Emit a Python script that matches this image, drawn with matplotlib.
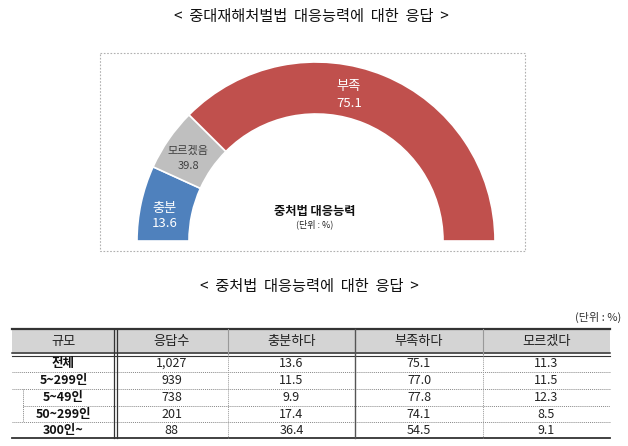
import matplotlib
matplotlib.use("Agg")
import matplotlib.pyplot as plt
from matplotlib.patches import Rectangle

plt.rcParams['font.family'] = ['Noto Sans CJK KR', 'DejaVu Sans']

# 도넛 데이터
donut_names = ['충분', '모르겠음', '부족']
donut_values = [13.6, 11.3, 75.1]
donut_texts = ['13.6', '39.8', '75.1']  # 그림에 표시된 값
donut_colors = ['#4f81bd', '#bfbfbf', '#c0504d']

# 표 데이터
col_names = ['규모', '응답수', '충분하다', '부족하다', '모르겠다']
sizes = ['전체', '5~299인', '5~49인', '50~299인', '300인~']
n_resp = ['1,027', '939', '738', '201', '88']
enough = [13.6, 11.5, 9.9, 17.4, 36.4]
lacking = [75.1, 77.0, 77.8, 74.1, 54.5]
unknown = [11.3, 11.5, 12.3, 8.5, 9.1]

W, H = 628, 446
fig = plt.figure(figsize=(W / 100, H / 100), dpi=100)
fig.patch.set_facecolor('white')

# 픽셀 좌표 오버레이
ax = fig.add_axes([0, 0, 1, 1])
ax.set_xlim(0, W)
ax.set_ylim(H, 0)
ax.axis('off')

ax.text(311, 17, '<  중대재해처벌법  대응능력에  대한  응답  >', ha='center', va='center',
        fontsize=11, color='#111111')
ax.add_patch(Rectangle((100, 53), 425, 198, fill=False, ec='#b0b0b0', lw=0.8, ls=(0, (1.5, 1.5))))

ax.text(315, 211, '중처법 대응능력', ha='center', va='center', fontsize=8.8,
        fontweight='bold', color='#111111')
ax.text(315, 224, '(단위 : %)', ha='center', va='center', fontsize=6.5, color='#222222')

ax.text(309, 287, '<  중처법  대응능력에  대한  응답  >', ha='center', va='center',
        fontsize=11, color='#111111')
ax.text(621, 317, '(단위 : %)', ha='right', va='center', fontsize=8, color='#333333')

# 표
xs = [12, 115, 228, 355, 483, 610]
y_top, y_head, y_bot = 329, 354, 438
row_lines = [354, 371.5, 388.5, 405.5, 422, 438]
centers = [(xs[i] + xs[i + 1]) / 2 for i in range(5)]

ax.add_patch(Rectangle((xs[0], y_top), xs[-1] - xs[0], y_head - y_top, fc='#d4d4d4', ec='none'))
ax.plot([xs[0], xs[-1]], [y_top, y_top], color='#333333', lw=1.6)
ax.plot([xs[0], xs[-1]], [y_head - 1, y_head - 1], color='#333333', lw=1.1)
ax.plot([xs[0], xs[-1]], [y_head + 2, y_head + 2], color='#333333', lw=0.8)
ax.plot([xs[0], xs[-1]], [y_bot, y_bot], color='#333333', lw=1.3)
for i, yl in enumerate(row_lines[1:-1]):
    x0 = 23 if i == 2 else xs[0]
    ax.plot([x0, xs[-1]], [yl, yl], color='#888888', lw=0.7, ls=(0, (1, 1)))
ax.plot([23, 23], [row_lines[2], row_lines[4]], color='#888888', lw=0.7, ls=(0, (1, 1)))

ax.plot([113.5, 113.5], [y_top, y_bot], color='#333333', lw=0.9)
ax.plot([116.5, 116.5], [y_top, y_bot], color='#333333', lw=0.9)
ax.plot([xs[3], xs[3]], [y_top, y_bot], color='#555555', lw=1.0)
for xv in (xs[2], xs[4]):
    ax.plot([xv, xv], [y_top, y_head], color='#999999', lw=0.8)
    ax.plot([xv, xv], [y_head, y_bot], color='#999999', lw=0.7, ls=(0, (1, 1)))

for c, name in zip(centers, col_names):
    ax.text(c, (y_top + y_head) / 2, name, ha='center', va='center', fontsize=9.5, color='#222222')

rows = list(zip(sizes, n_resp, enough, lacking, unknown))
for r, row in enumerate(rows):
    yc = (row_lines[r] + row_lines[r + 1]) / 2 + 0.5
    ax.text(centers[0], yc, row[0], ha='center', va='center', fontsize=9,
            fontweight='bold', color='#111111')
    ax.text(centers[1], yc, row[1], ha='center', va='center', fontsize=9, color='#222222')
    for k in range(3):
        ax.text(centers[k + 2], yc, f'{row[k + 2]:.1f}', ha='center', va='center',
                fontsize=9, color='#222222')

# 반원 도넛
cx, cy, rad = 316, 241, 179
pax = fig.add_axes([(cx - rad) / W, (H - cy - rad) / H, 2 * rad / W, 2 * rad / H])
pax.patch.set_alpha(0)
wedges, _ = pax.pie(donut_values + [sum(donut_values)], colors=donut_colors + ['white'],
                    startangle=180, counterclock=False, radius=1,
                    wedgeprops=dict(width=52 / 179, edgecolor='white', linewidth=1.2))
wedges[-1].set_visible(False)
pax.set_xlim(-1, 1)
pax.set_ylim(-1, 1)
pax.axis('off')

# (x, 이름 y, 값 y) - 도넛 축 좌표
label_pos = [(-0.844, 0.18, 0.095), (-0.715, 0.505, 0.42), (0.184, 0.862, 0.77)]
label_colors = ['white', '#404040', 'white']
label_fs = [9.5, 8, 9.5]
for (lx, ny, vy), name, val, col, fs in zip(label_pos, donut_names, donut_texts, label_colors, label_fs):
    pax.text(lx, ny, name, ha='center', va='center', fontsize=fs, color=col)
    pax.text(lx, vy, val, ha='center', va='center', fontsize=fs, color=col)

fig.savefig('out.png', dpi=100)
